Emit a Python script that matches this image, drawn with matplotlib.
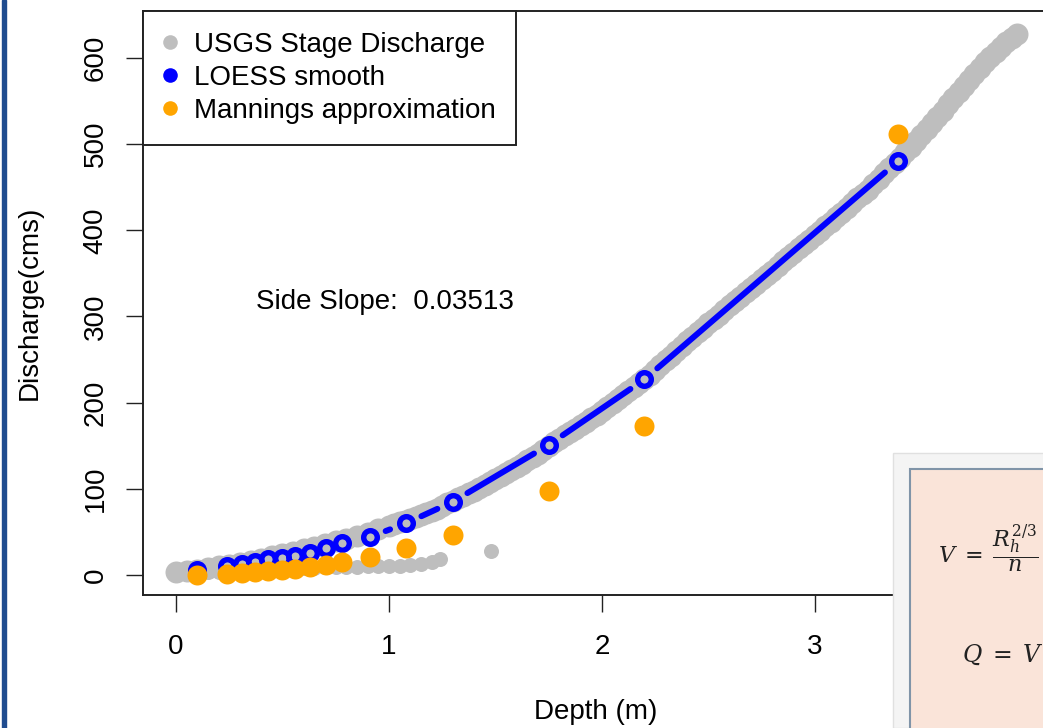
import numpy as np
import matplotlib.pyplot as plt
from matplotlib.lines import Line2D
from matplotlib.patches import Rectangle

plt.rcParams['font.family'] = ['Liberation Sans', 'DejaVu Sans']
plt.rcParams['mathtext.fontset'] = 'dejavuserif'

# USGS stage-discharge records, main rating band (read along the band)
usgs_depth = [0.00, 0.05, 0.10, 0.15, 0.20, 0.25, 0.30, 0.35, 0.40, 0.45,
              0.50, 0.55, 0.60, 0.65, 0.70, 0.75, 0.80, 0.85, 0.90, 0.95,
              1.000, 1.025, 1.050, 1.075, 1.100, 1.125, 1.150, 1.175, 1.200, 1.225,
              1.250, 1.275, 1.300, 1.325, 1.350, 1.375, 1.400, 1.425, 1.450, 1.475,
              1.500, 1.525, 1.550, 1.575, 1.600, 1.625, 1.650, 1.675, 1.700, 1.725,
              1.750, 1.775, 1.800, 1.825, 1.850, 1.875, 1.900, 1.925, 1.950, 1.975,
              2.000, 2.025, 2.050, 2.075, 2.100, 2.125, 2.150, 2.175, 2.200, 2.225,
              2.250, 2.275, 2.300, 2.325, 2.350, 2.375, 2.400, 2.425, 2.450, 2.475,
              2.500, 2.525, 2.550, 2.575, 2.600, 2.625, 2.650, 2.675, 2.700, 2.725,
              2.750, 2.775, 2.800, 2.825, 2.850, 2.875, 2.900, 2.925, 2.950, 2.975,
              3.000, 3.025, 3.050, 3.075, 3.100, 3.125, 3.150, 3.175, 3.200, 3.225,
              3.250, 3.275, 3.300, 3.325, 3.350, 3.375, 3.400, 3.425, 3.450, 3.475,
              3.500, 3.525, 3.550, 3.575, 3.600, 3.625, 3.650, 3.675, 3.700, 3.725,
              3.750, 3.775, 3.800, 3.825, 3.850, 3.875, 3.900, 3.925, 3.950]
usgs_q = [3, 4.5, 6, 8, 10, 12, 14, 16.5, 19, 21.5,
          24, 27, 30, 33, 36, 39, 42, 45.5, 49, 53,
          57, 59, 61, 63, 65, 67.2, 69.5, 71.7, 74, 77,
          80, 83, 86, 89, 92, 95, 98, 101, 104, 107.5,
          111, 114.5, 118, 121.5, 125, 129, 133, 137, 141, 145.5,
          150, 154, 158, 162, 166, 170, 174, 178, 182, 186,
          190, 194.7, 199.5, 204.2, 209, 213.5, 218, 222.5, 227, 232.5,
          238, 243.5, 249, 254.5, 260, 265.5, 271, 276.5, 282, 287,
          292, 297, 302, 307.5, 313, 318, 323, 328, 333, 338,
          343, 348, 353, 358.5, 364, 369, 374, 379, 384, 389,
          394, 399.5, 405, 410, 415, 420.5, 426, 431.5, 437, 442,
          447, 453.5, 460, 466, 472, 478, 484, 490.5, 497, 504,
          511, 518, 525, 532, 539, 546, 553, 560, 567, 574,
          581, 588, 595, 601, 607, 613, 619, 623.5, 628]

# USGS low-flow branch and the lone outlier
usgs_low_depth = [0.00, 0.05, 0.10, 0.15, 0.20, 0.25, 0.30, 0.35, 0.40, 0.45,
                  0.50, 0.55, 0.60, 0.65, 0.70, 0.75, 0.80, 0.85, 0.90, 0.95,
                  1.00, 1.05, 1.10, 1.15, 1.20, 1.24, 1.48]
usgs_low_q = [2, 2.5, 3, 3.5, 4, 4.5, 5, 5.5, 6, 6.5,
              7, 7.5, 8, 8.5, 9, 9, 9.5, 9.5, 10, 10,
              10.5, 11, 11.5, 13, 15, 18, 28]

# LOESS smooth and Manning's approximation share the same depths
model_depth = [0.10, 0.24, 0.31, 0.37, 0.43, 0.50, 0.56, 0.63, 0.705, 0.78,
               0.91, 1.08, 1.30, 1.75, 2.20, 3.39]
loess_q = [6, 10, 13, 15.5, 18, 20, 22.5, 26, 31, 37,
           44, 60, 85, 151, 227, 480]
manning_q = [0, 1, 2, 3.5, 4.6, 5.8, 7.5, 9.3, 11.6, 15,
             21, 31, 47, 98, 173, 512]

legend_labels = ['USGS Stage Discharge', 'LOESS smooth', 'Mannings approximation']
x_ticks = [0, 1, 2, 3]
y_ticks = [0, 100, 200, 300, 400, 500, 600]

W, H = 1043, 728
FS = 20
fig = plt.figure(figsize=(W / 100, H / 100), dpi=100)
ax = fig.add_axes([143 / W, (H - 595) / H, 906 / W, 584 / H])
ax.set_xlim(-0.155, 4.10)
ax.set_ylim(-23.2, 654.5)

gray = '#bebebe'
ax.scatter(usgs_depth, usgs_q, s=(22 * 0.72) ** 2, color=gray, lw=0, zorder=2)
ax.scatter(usgs_low_depth, usgs_low_q, s=(15 * 0.72) ** 2, color=gray, lw=0, zorder=2)


def draw_b_type(ax, xs, ys, gap_px, **kw):
    # R style type="b": segments stop short of each point
    pts = ax.transData.transform(np.column_stack([xs, ys]))
    inv = ax.transData.inverted()
    for p0, p1 in zip(pts[:-1], pts[1:]):
        d = p1 - p0
        dist = np.hypot(*d)
        if dist <= 2 * gap_px:
            continue
        u = d / dist
        seg = inv.transform([p0 + u * gap_px, p1 - u * gap_px])
        ax.plot(seg[:, 0], seg[:, 1], **kw)


draw_b_type(ax, model_depth, loess_q, 17, color='#0000ff', lw=4.3,
            solid_capstyle='round', zorder=3)
ax.plot(model_depth, loess_q, ls='none', marker='o', ms=9.8, mfc='none',
        mec='#0000ff', mew=3.9, zorder=4)
ax.plot(model_depth, manning_q, ls='none', marker='o', ms=14.4, mfc='#ffa500',
        mec='none', zorder=5)

ax.text(0.376, 317, 'Side Slope:  0.03513', fontsize=FS, ha='left', va='center')

for s in ax.spines.values():
    s.set_linewidth(1.4)
    s.set_color('#222222')
ax.set_xticks(x_ticks, [str(v) for v in x_ticks])
ax.set_yticks(y_ticks, [str(v) for v in y_ticks], rotation=90, va='center')
ax.tick_params(axis='both', direction='out', length=12.2, width=1.0,
               color='#222222', labelsize=FS)
ax.tick_params(axis='x', pad=16)
ax.tick_params(axis='y', pad=12.5)

handles = [Line2D([], [], ls='none', marker='o', ms=10.5, color=c, mec='none')
           for c in [gray, '#0000ff', '#ffa500']]
leg = ax.legend(handles, legend_labels, loc='upper left', borderaxespad=0,
                fancybox=False, framealpha=1, edgecolor='#222222', fontsize=FS,
                handlelength=0.45, handletextpad=0.64, borderpad=0.74,
                labelspacing=0.26)
leg.get_frame().set_linewidth(1.4)
leg.set_zorder(6)

fig.text(29.5 / W, 1 - 302.5 / H, 'Discharge(cms)', fontsize=FS,
         rotation=90, ha='center', va='center')
fig.text(596 / W, 1 - 712 / H, 'Depth (m)', fontsize=FS, ha='center', va='center')

# left edge frame of the slide and the formula inset
fig.patches.append(Rectangle((1.5 / W, 0), 4.5 / W, 1, transform=fig.transFigure,
                             color='#1f4c8f', zorder=10))
fig.patches.append(Rectangle((893 / W, 0), 200 / W, (H - 453) / H,
                             transform=fig.transFigure, facecolor='#f4f4f4',
                             edgecolor='#e0e0e0', lw=1, zorder=10))
fig.patches.append(Rectangle((910 / W, -0.05), 200 / W, (H - 469) / H + 0.05,
                             transform=fig.transFigure, facecolor='#fae4d9',
                             edgecolor='#8094a8', lw=1.5, zorder=11))
fig.text(938 / W, 1 - 549 / H, r'$V\;=\;\dfrac{R_h^{2/3}}{n}$',
         fontsize=16, ha='left', va='center', color='#222222', zorder=12)
fig.text(962 / W, 1 - 655 / H, r'$Q\;=\;V$', fontsize=17, ha='left',
         va='center', color='#222222', zorder=12)

fig.savefig('out.png', dpi=100)
